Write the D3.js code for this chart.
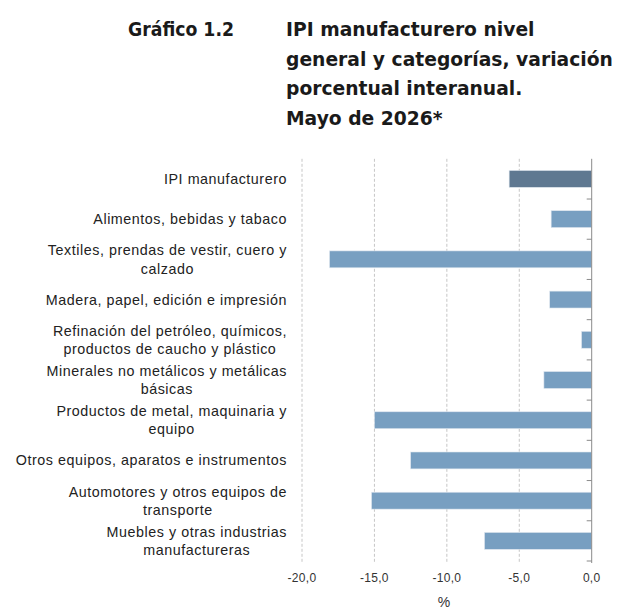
<!DOCTYPE html>
<html>
<head>
<meta charset="utf-8">
<script src="https://cdn.jsdelivr.net/npm/d3@7"></script>
<style>
  body { margin: 0; background: #fff; }
  svg { display: block; }
  .lbl { font-family: "Liberation Sans", Arimo, Arial, Helvetica, sans-serif; }
  .ttl { font-family: "DejaVu Sans", Verdana, sans-serif; font-weight: bold; }
</style>
</head>
<body>
<div id="viz"></div>
<script>
// Data
const categories = [
  ['IPI manufacturero'],
  ['Alimentos, bebidas y tabaco'],
  ['Textiles, prendas de vestir, cuero y', 'calzado'],
  ['Madera, papel, edición e impresión'],
  ['Refinación del petróleo, químicos,', 'productos de caucho y plástico'],
  ['Minerales no metálicos y metálicas', 'básicas'],
  ['Productos de metal, maquinaria y', 'equipo'],
  ['Otros equipos, aparatos e instrumentos'],
  ['Automotores y otros equipos de', 'transporte'],
  ['Muebles y otras industrias', 'manufactureras']
];
const values = [-5.7, -2.8, -18.1, -2.9, -0.7, -3.3, -15.0, -12.5, -15.2, -7.4];
const xTicks = [-20, -15, -10, -5, 0];
const titleLeft = 'Gráfico 1.2';
const titleLines = ['IPI manufacturero nivel', 'general y categorías, variación', 'porcentual interanual.', 'Mayo de 2026*'];
const axisTitle = '%';

const width = 629;
const height = 612;
const plot = {left: 302, right: 591.7, top: 158.8, bottom: 561};
const mainColor = '#789fc1';
const totalColor = '#5f7891';

const svg = d3.select('#viz')
  .append('svg')
  .attr('width', width)
  .attr('height', height);

// Title
const tLeft = svg.append('text')
  .attr('class', 'ttl')
  .attr('x', 128).attr('y', 36)
  .attr('font-size', 18)
  .attr('fill', '#1a1a1a')
  .text(titleLeft);

const tLines = svg.append('g').selectAll('text')
  .data(titleLines)
  .join('text')
  .attr('class', 'ttl')
  .attr('x', 286)
  .attr('y', (d, i) => 36 + i * 29.5)
  .attr('font-size', 18)
  .attr('fill', '#1a1a1a')
  .text(d => d);

// fit the title to the width of the original
const w2 = tLines.nodes()[1].getComputedTextLength();
const fs = 18 * 327 / w2;
tLines.attr('font-size', fs);
tLeft.attr('font-size', fs)
  .attr('textLength', 106).attr('lengthAdjust', 'spacingAndGlyphs');

// Scales
const x = d3.scaleLinear().domain([-20, 0]).range([plot.left, plot.right]);
const keys = categories.map((c, i) => i);
const y = d3.scaleBand().domain(keys).range([plot.top, plot.bottom])
  .paddingInner(0.58).paddingOuter(0.29);

// grid
svg.append('g').selectAll('line')
  .data(xTicks.filter(t => t !== 0))
  .join('line')
  .attr('x1', d => x(d)).attr('x2', d => x(d))
  .attr('y1', plot.top).attr('y2', plot.bottom + 2)
  .attr('stroke', '#c6c6c6')
  .attr('stroke-dasharray', '3,2');

// bars
svg.append('g').selectAll('rect')
  .data(values)
  .join('rect')
  .attr('x', d => x(d))
  .attr('width', d => x(0) - x(d))
  .attr('y', (d, i) => y(i))
  .attr('height', y.bandwidth())
  .attr('fill', (d, i) => i === 0 ? totalColor : mainColor)
  .attr('stroke', '#dfe7ef')
  .attr('stroke-width', 0.6);

// zero axis with ticks at band boundaries
svg.append('line')
  .attr('x1', x(0)).attr('x2', x(0))
  .attr('y1', plot.top).attr('y2', plot.bottom + 2)
  .attr('stroke', '#8a8a8a').attr('stroke-width', 1);

const bounds = d3.range(1, categories.length + 1).map(i => plot.top + i * y.step());
svg.append('g').selectAll('line')
  .data(bounds)
  .join('line')
  .attr('x1', x(0) - 5).attr('x2', x(0))
  .attr('y1', d => d).attr('y2', d => d)
  .attr('stroke', '#8a8a8a');

// x tick labels
const fmt = d => d3.format('.1f')(d).replace('.', ',').replace('−', '-');
svg.append('g').selectAll('text')
  .data(xTicks)
  .join('text')
  .attr('class', 'lbl')
  .attr('x', d => x(d))
  .attr('y', 582)
  .attr('text-anchor', 'middle')
  .attr('font-size', 12)
  .attr('letter-spacing', 0.3)
  .attr('fill', '#333')
  .text(fmt);

svg.append('text')
  .attr('class', 'lbl')
  .attr('x', 444).attr('y', 607)
  .attr('text-anchor', 'middle')
  .attr('font-size', 14)
  .attr('fill', '#333')
  .text(axisTitle);

// category labels: block right-aligned, lines centered
const labelRight = 287;
const lineH = 18.3;
const labelG = svg.append('g')
  .attr('class', 'lbl')
  .attr('font-size', 14.3)
  .attr('letter-spacing', 0.55)
  .attr('fill', '#222');

categories.forEach((lines, i) => {
  const cy = y(i) + y.bandwidth() / 2;
  const g = labelG.append('g');
  const texts = g.selectAll('text')
    .data(lines)
    .join('text')
    .attr('class', 'lbl')
    .attr('y', (d, j) => cy + (j - (lines.length - 1) / 2) * lineH)
    .attr('dy', '0.35em')
    .text(d => d);
  const widths = texts.nodes().map(n => n.getComputedTextLength());
  const maxW = d3.max(widths);
  texts.attr('x', labelRight - maxW / 2).attr('text-anchor', 'middle');
});
</script>
</body>
</html>
